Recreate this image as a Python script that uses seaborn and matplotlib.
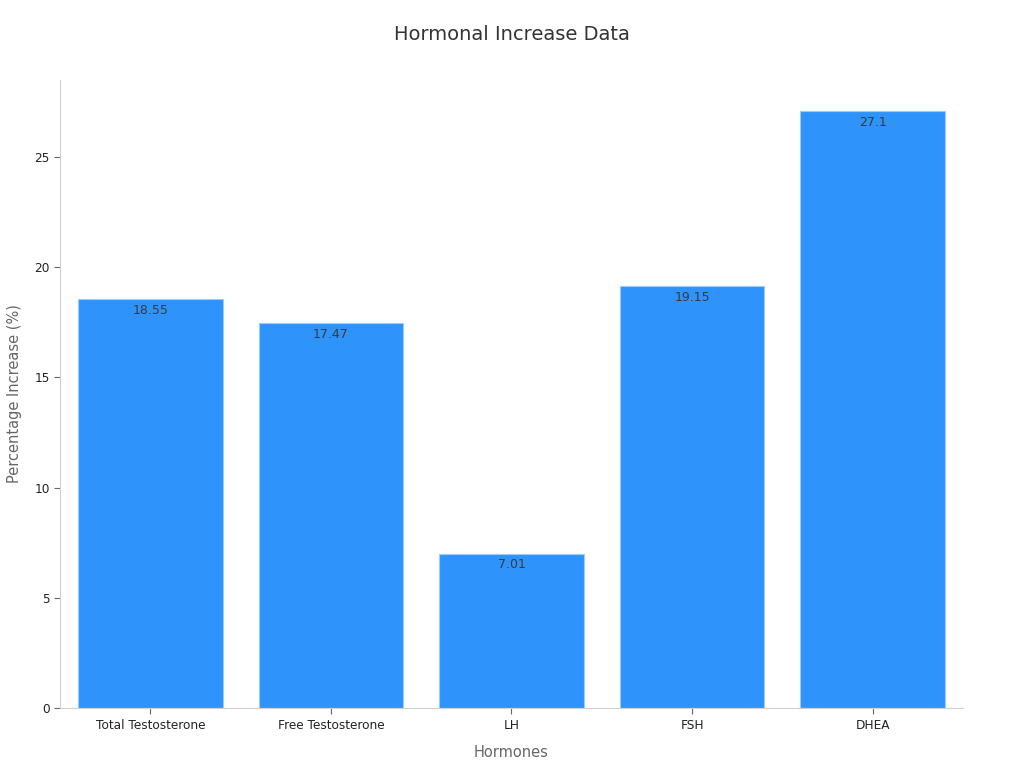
import matplotlib
matplotlib.use("Agg")
import matplotlib.pyplot as plt
import seaborn as sns
import pandas as pd

# data
hormones = ['Total Testosterone', 'Free Testosterone', 'LH', 'FSH', 'DHEA']
increase = [18.55, 17.47, 7.01, 19.15, 27.1]

df = pd.DataFrame({'Hormones': hormones, 'Increase': increase})

sns.set_theme(style='white')
plt.rcParams['font.family'] = ['DejaVu Sans']

fig = plt.figure(figsize=(10.24, 7.68), dpi=100)
ax = fig.add_axes([0.0586, 0.078, 0.8818, 0.818])

sns.barplot(data=df, x='Hormones', y='Increase', color='#2E93FA',
            saturation=1, width=0.8, edgecolor='#9CCBFB', linewidth=0.8, ax=ax)

for i, v in enumerate(increase):
    lbl = f'{v:g}'
    ax.annotate(lbl, (i, v), xytext=(0, -3.5), textcoords='offset points',
                ha='center', va='top', fontsize=9, color='#3a3a3a')

ax.set_xlim(-0.5, 4.5)
ax.set_ylim(0, 28.5)
ax.set_yticks([0, 5, 10, 15, 20, 25])

ax.set_title('Hormonal Increase Data', fontsize=14, color='#333333', pad=29)
ax.set_xlabel('Hormones', fontsize=10.5, color='#666666', labelpad=10)
ax.set_ylabel('Percentage Increase (%)', fontsize=10.5, color='#666666', labelpad=9)

for s in ['top', 'right']:
    ax.spines[s].set_visible(False)
for s in ['left', 'bottom']:
    ax.spines[s].set_color('#d0d0d0')
    ax.spines[s].set_linewidth(0.8)

ax.tick_params(axis='both', which='both', length=4, width=0.8, color='#666666',
               labelsize=8.7, labelcolor='#222222', left=True, bottom=True)

fig.savefig('out.png', dpi=100)
